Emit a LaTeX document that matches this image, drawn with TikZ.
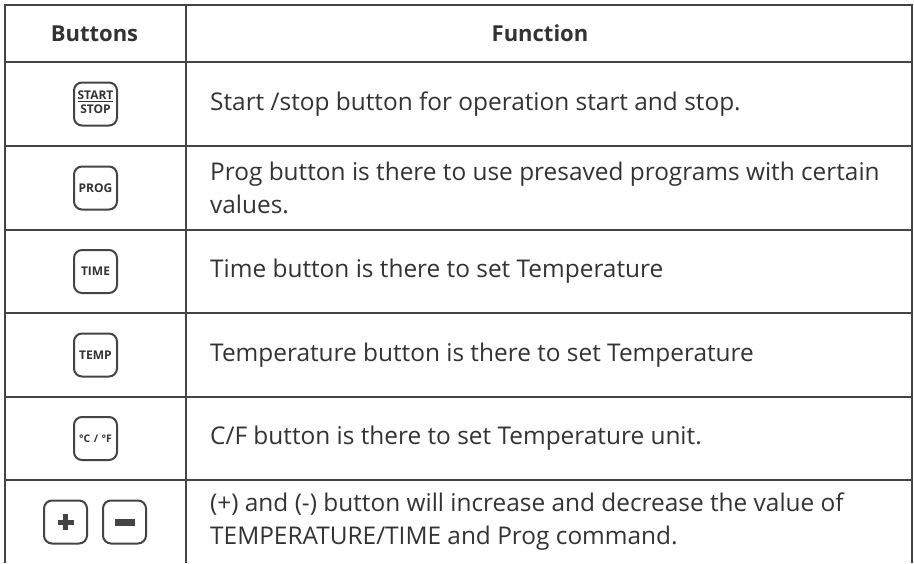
\documentclass[tikz,border=0pt]{standalone}
\usepackage{fontspec}
\setmainfont{Open Sans}
\usetikzlibrary{positioning}
\definecolor{ink}{HTML}{333333}
\definecolor{rulegray}{HTML}{444444}

\begin{document}
\begin{tikzpicture}[x=1pt, y=-1pt, node distance=14pt,
        grid/.style={draw=rulegray, line width=2pt},
        head/.style={font=\fontsize{22}{25}\selectfont\bfseries, text=ink},
        desc/.style={anchor=west, align=left, inner sep=0pt, font=\fontsize{24.4}{33.5}\selectfont, text=ink},
        key/.style={draw=rulegray, line width=2pt, rounded corners=8pt, minimum size=43pt, inner sep=0pt, align=center, text=ink, font=\fontsize{12}{12}\selectfont\bfseries}
    ]
        \useasboundingbox (0,0) rectangle (914,563);

        % table rules
        \draw [grid] (5,563) -- (5,5) -- (912,5) -- (912,563);
        \draw [grid] (186,5) -- (186,563);
        \foreach \y in {62,146,230,313,397,480}
            \draw [grid] (5,\y) -- (912,\y);

        % header
        \node [head] (hbuttons) at (94.5,33.5) {Buttons};
        \node [head] (hfunction) at (540,33.5) {Function};

        % buttons
        \node [key] (startstop) at (95.5,104) {\setlength{\arrayrulewidth}{1.3pt}\begin{tabular}{@{}c@{}}START\\[-2pt]\hline\rule{0pt}{12pt}STOP\end{tabular}};
        \node [key] (prog) at (95.5,188) {PROG};
        \node [key] (time) at (95.5,271.5) {TIME};
        \node [key] (temp) at (95.5,355) {TEMP};
        \node [key, font=\fontsize{10.5}{11}\selectfont\bfseries] (unit) at (95.5,438.5) {°C\hspace{3.5pt}/\hspace{3.5pt}°F};
        \node [key] (plus) at (65.5,522) {};
        \node [key, right=of plus] (minus) {};
        \fill [rulegray] ([xshift=-8pt,yshift=-2.5pt]plus.center) rectangle ([xshift=8pt,yshift=2.5pt]plus.center);
        \fill [rulegray] ([xshift=-2.5pt,yshift=-8pt]plus.center) rectangle ([xshift=2.5pt,yshift=8pt]plus.center);
        \fill [rulegray] ([xshift=-10pt,yshift=-3.5pt]minus.center) rectangle ([xshift=10pt,yshift=3.5pt]minus.center);

        % functions
        \node [desc] (fstart) at (210,104) {Start /stop button for operation start and stop.};
        \node [desc] (fprog) at (210,188) {Prog button is there to use presaved programs with certain\\values.};
        \node [desc] (ftime) at (210,271.5) {Time button is there to set Temperature};
        \node [desc] (ftemp) at (210,355) {Temperature button is there to set Temperature};
        \node [desc] (funit) at (210,438.5) {C/F button is there to set Temperature unit.};
        \node [desc] (fplus) at (210,521.5) {(+) and (-) button will increase and decrease the value of\\TEMPERATURE/TIME and Prog command.};
    \end{tikzpicture}
\end{document}
